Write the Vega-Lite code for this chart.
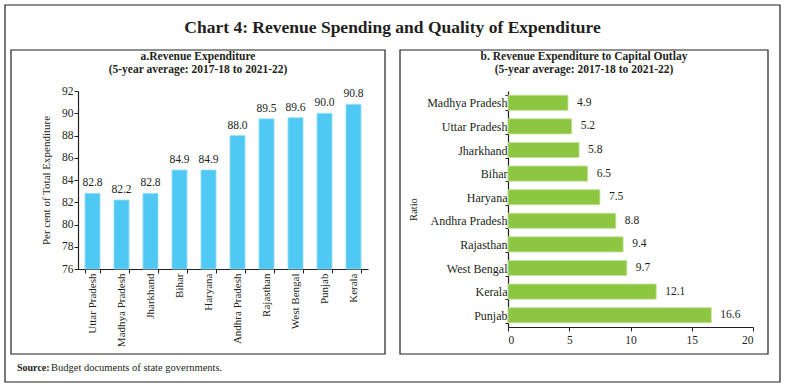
{
  "$schema": "https://vega.github.io/schema/vega-lite/v6.json",
  "padding": {"left": 4, "top": 4, "right": 0, "bottom": 0},
  "background": "white",
  "bounds": "flush",
  "title": {"text": "Chart 4: Revenue Spending and Quality of Expenditure", "font": "Liberation Serif", "fontSize": 17.5, "fontWeight": "bold", "color": "#231f20", "anchor": "middle", "offset": -32},
  "spacing": 140,
  "hconcat": [
    {
      "width": 290,
      "height": 178,
      "title": {"text": ["a.Revenue Expenditure", "(5-year average: 2017-18 to 2021-22)"], "frame": "group", "anchor": "middle", "dx": -25, "offset": -71.5, "fontSize": 11.5, "lineHeight": 13, "font": "Liberation Serif", "fontWeight": "bold", "color": "#231f20"},
      "data": {"values": [
        {"state": "Uttar Pradesh", "value": 82.8},
        {"state": "Madhya Pradesh", "value": 82.2},
        {"state": "Jharkhand", "value": 82.8},
        {"state": "Bihar", "value": 84.9},
        {"state": "Haryana", "value": 84.9},
        {"state": "Andhra Pradesh", "value": 88.0},
        {"state": "Rajasthan", "value": 89.5},
        {"state": "West Bengal", "value": 89.6},
        {"state": "Punjab", "value": 90.0},
        {"state": "Kerala", "value": 90.8}
      ]},
      "layer": [
        {"data": {"values": [{}]}, "mark": {"type": "rect", "filled": false, "stroke": "#231f20", "strokeWidth": 1.2, "xOffset": -73, "x2Offset": 412, "yOffset": -86, "y2Offset": 113},
          "encoding": {"x": {"value": 0}, "x2": {"value": "width"}, "y": {"value": 0}, "y2": {"value": "height"}}},
        {"data": {"values": [{}]}, "mark": {"type": "rect", "filled": false, "stroke": "#231f20", "strokeWidth": 1.2, "xOffset": -67, "x2Offset": 17, "yOffset": -41, "y2Offset": 85},
          "encoding": {"x": {"value": 0}, "x2": {"value": "width"}, "y": {"value": 0}, "y2": {"value": "height"}}},
        {
          "mark": {"type": "bar", "color": "#4FC8F3", "stroke": "#9fdff7", "strokeWidth": 0.8},
          "encoding": {
            "x": {"field": "state", "type": "nominal", "sort": null, "scale": {"paddingInner": 0.48, "paddingOuter": 0.24},
              "axis": {"title": null, "labelAngle": -90, "labelFontSize": 11, "tickBand": "extent", "tickSize": 4, "labelPadding": 0}},
            "y": {"field": "value", "type": "quantitative", "scale": {"domain": [76, 92], "nice": false, "zero": false},
              "axis": {"title": "Per cent of Total Expenditure", "values": [76, 78, 80, 82, 84, 86, 88, 90, 92], "labelOverlap": false, "titleFontSize": 11, "labelFontSize": 11.5, "tickSize": 4, "labelPadding": 1, "titlePadding": 10}},
            "y2": {"datum": 76}
          }
        },
        {
          "mark": {"type": "text", "dy": -7, "baseline": "alphabetic", "fontSize": 11.5, "color": "#231f20"},
          "encoding": {
            "x": {"field": "state", "type": "nominal", "sort": null,
              "axis": {"title": null, "labelAngle": -90, "labelFontSize": 11, "tickBand": "extent", "tickSize": 4, "labelPadding": 0}},
            "y": {"field": "value", "type": "quantitative",
              "axis": {"title": "Per cent of Total Expenditure", "values": [76, 78, 80, 82, 84, 86, 88, 90, 92], "labelOverlap": false, "titleFontSize": 11, "labelFontSize": 11.5, "tickSize": 4, "labelPadding": 1, "titlePadding": 10}},
            "text": {"field": "value", "type": "quantitative", "format": ".1f"}
          }
        },
        {"data": {"values": [{"t": "Source:"}]}, "mark": {"type": "text", "align": "left", "baseline": "middle", "dx": -206, "dy": 188, "fontSize": 10, "fontWeight": "bold", "color": "#231f20"}, "encoding": {"text": {"field": "t"}}},
        {"data": {"values": [{"t": "Budget documents of state governments."}]}, "mark": {"type": "text", "align": "left", "baseline": "middle", "dx": -172, "dy": 188, "fontSize": 10.5, "color": "#231f20"}, "encoding": {"text": {"field": "t"}}}
      ]
    },
    {
      "width": 245,
      "height": 236,
      "title": {"text": ["b. Revenue Expenditure to Capital Outlay", "(5-year average: 2017-18 to 2021-22)"], "frame": "bounds", "anchor": "middle", "offset": -26.5, "fontSize": 11.5, "lineHeight": 13, "font": "Liberation Serif", "fontWeight": "bold", "color": "#231f20"},
      "data": {"values": [
        {"state": "Madhya Pradesh", "value": 4.9},
        {"state": "Uttar Pradesh", "value": 5.2},
        {"state": "Jharkhand", "value": 5.8},
        {"state": "Bihar", "value": 6.5},
        {"state": "Haryana", "value": 7.5},
        {"state": "Andhra Pradesh", "value": 8.8},
        {"state": "Rajasthan", "value": 9.4},
        {"state": "West Bengal", "value": 9.7},
        {"state": "Kerala", "value": 12.1},
        {"state": "Punjab", "value": 16.6}
      ]},
      "layer": [
        {"data": {"values": [{}]}, "mark": {"type": "rect", "filled": false, "stroke": "#231f20", "strokeWidth": 1.2, "xOffset": -108, "x2Offset": 15, "yOffset": -41, "y2Offset": 27},
          "encoding": {"x": {"value": 0}, "x2": {"value": "width"}, "y": {"value": 0}, "y2": {"value": "height"}}},
        {
          "mark": {"type": "bar", "color": "#8DC641", "stroke": "#c4e29c", "strokeWidth": 0.8},
          "encoding": {
            "y": {"field": "state", "type": "nominal", "sort": null, "scale": {"paddingInner": 0.36, "paddingOuter": 0.18},
              "axis": {"title": "Ratio", "titleFontSize": 10.5, "titlePadding": 8, "labelFontSize": 12, "tickBand": "extent", "tickSize": 3, "labelPadding": -2}},
            "x": {"field": "value", "type": "quantitative", "scale": {"domain": [0, 20], "nice": false},
              "axis": {"title": null, "values": [0, 5, 10, 15, 20], "labelFontSize": 11.5, "tickSize": 4, "labelPadding": 3}}
          }
        },
        {
          "mark": {"type": "text", "align": "left", "dx": 9, "baseline": "middle", "fontSize": 11.5, "color": "#231f20"},
          "encoding": {
            "y": {"field": "state", "type": "nominal", "sort": null,
              "axis": {"title": "Ratio", "titleFontSize": 10.5, "titlePadding": 8, "labelFontSize": 12, "tickBand": "extent", "tickSize": 3, "labelPadding": -2}},
            "x": {"field": "value", "type": "quantitative",
              "axis": {"title": null, "values": [0, 5, 10, 15, 20], "labelFontSize": 11.5, "tickSize": 4, "labelPadding": 3}},
            "text": {"field": "value", "type": "quantitative", "format": ".1f"}
          }
        }
      ]
    }
  ],
  "config": {
    "view": {"stroke": null},
    "font": "Liberation Serif",
    "axis": {"labelFont": "Liberation Serif", "titleFont": "Liberation Serif", "domainColor": "#231f20", "tickColor": "#231f20", "labelColor": "#231f20", "titleColor": "#231f20", "grid": false, "titleFontWeight": "normal", "domainWidth": 1.2}
  }
}
